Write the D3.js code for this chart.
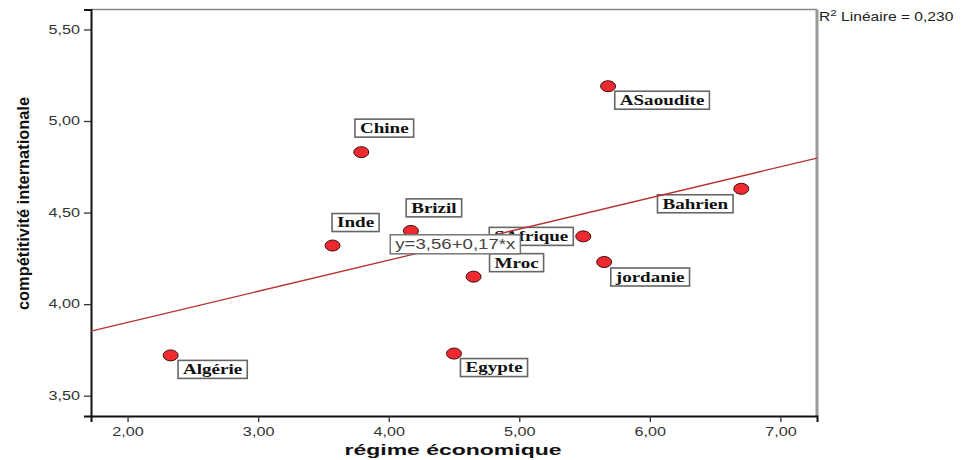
<!DOCTYPE html>
<html>
<head>
<meta charset="utf-8">
<script src="https://d3js.org/d3.v7.min.js"></script>
<style>
  body { margin: 0; background: #fff; }
  .tick text { font-family: Arial, "Liberation Sans", sans-serif; font-size: 12px; fill: #333; }
  .lbl text { font-family: "Liberation Serif", "Times New Roman", serif; font-weight: bold; font-size: 14px; fill: #111; }
</style>
</head>
<body>
<svg id="chart" width="964" height="460"></svg>
<script>
// data
var countries    = ["Algérie", "Chine", "Inde", "Brizil", "Mroc", "SAfrique", "jordanie", "Egypte", "ASaoudite", "Bahrien"];
var regime       = [2.33, 3.79, 3.57, 4.17, 4.65, 5.49, 5.65, 4.50, 5.68, 6.70];
var competitivite = [3.72, 4.83, 4.32, 4.40, 4.15, 4.37, 4.23, 3.73, 5.19, 4.63];
var xTicks = [2, 3, 4, 5, 6, 7];
var yTicks = [3.5, 4, 4.5, 5, 5.5];
var intercept = 3.56, slope = 0.17, r2 = "0,230";

// where each label box sits relative to its point (box centre)
var labelOffsets = [[42, 14], [23, -24], [23, -23], [23, -23], [43, -14], [-52, 0], [46, 15], [40, 14], [54, 14], [-46, 15]];

var svg = d3.select("#chart");
var plotL = 91, plotR = 817, plotT = 9.5, plotB = 416;
var stretch = 1.35;

var x = d3.scaleLinear().domain([1.72, 7.28]).range([plotL, plotR]);
var y = d3.scaleLinear().domain([3.389, 5.609]).range([plotB, plotT]);
var fmt = function(d){ return d3.format(".2f")(d).replace(".", ","); };

// widen text like the original export
function widen(sel, k) {
  sel.each(function() {
    var w = this.getComputedTextLength();
    d3.select(this).attr("textLength", w * k).attr("lengthAdjust", "spacingAndGlyphs");
  });
}

// frame
svg.append("line").attr("x1", plotL).attr("x2", plotR).attr("y1", plotT).attr("y2", plotT)
  .attr("stroke", "#888").attr("stroke-width", 1.5);
svg.append("line").attr("x1", plotR).attr("x2", plotR).attr("y1", plotT).attr("y2", plotB)
  .attr("stroke", "#999").attr("stroke-width", 3);

var xAxis = svg.append("g").attr("transform", "translate(0," + plotB + ")")
  .call(d3.axisBottom(x).tickValues(xTicks).tickFormat(fmt).tickSize(6).tickPadding(5));
var yAxis = svg.append("g").attr("transform", "translate(" + plotL + ",0)")
  .call(d3.axisLeft(y).tickValues(yTicks).tickFormat(fmt).tickSize(7).tickPadding(4));
[xAxis, yAxis].forEach(function(a){
  a.select(".domain").attr("stroke", "#111").attr("stroke-width", 2);
  a.selectAll(".tick line").attr("stroke", "#333").attr("stroke-width", 1.3);
  a.selectAll(".tick text").attr("font-size", 12).attr("font-family", null).call(widen, stretch);
});

// points
svg.append("g").selectAll("ellipse").data(countries).join("ellipse")
  .attr("cx", function(d, i){ return x(regime[i]); })
  .attr("cy", function(d, i){ return y(competitivite[i]); })
  .attr("rx", 7.5).attr("ry", 5.5)
  .attr("fill", "#ee2a30").attr("stroke", "#3a1010").attr("stroke-width", 1);

// labels
var lbl = svg.append("g").attr("class", "lbl").selectAll("g").data(countries).join("g")
  .attr("transform", function(d, i){
    return "translate(" + (x(regime[i]) + labelOffsets[i][0]) + "," + (y(competitivite[i]) + labelOffsets[i][1]) + ")";
  });
lbl.append("rect").attr("fill", "#fff").attr("stroke", "#666").attr("stroke-width", 1.6);
lbl.append("text").attr("text-anchor", "middle").attr("dy", "0.35em").text(function(d){ return d; })
  .call(widen, 1.36);
lbl.each(function(){
  var g = d3.select(this);
  var w = +g.select("text").attr("textLength") + 10;
  g.select("rect").attr("x", -w / 2).attr("y", -9).attr("width", w).attr("height", 18);
});

// fit line
var xd = x.domain();
svg.append("line")
  .attr("x1", x(xd[0])).attr("y1", y(intercept + slope * xd[0]))
  .attr("x2", x(xd[1])).attr("y2", y(intercept + slope * xd[1]))
  .attr("stroke", "#b5312f").attr("stroke-width", 1.3);

// equation box sitting on the line
var eqX = 4.51;
var eq = svg.append("g").attr("transform", "translate(" + x(eqX) + "," + y(intercept + slope * eqX) + ")");
var eqRect = eq.append("rect").attr("fill", "#fff").attr("stroke", "#777").attr("stroke-width", 1.5);
eq.append("text").attr("text-anchor", "middle").attr("dy", "0.36em")
  .attr("font-family", "Arial, 'Liberation Sans', sans-serif").attr("font-size", 14).attr("fill", "#444")
  .text("y=3,56+0,17*x").call(widen, 1.33);
var ew = +eq.select("text").attr("textLength") + 10;
eqRect.attr("x", -ew / 2).attr("y", -9.5).attr("width", ew).attr("height", 19);

// R² annotation
var r2t = svg.append("text").attr("transform", "translate(819,21) scale(1.3,1)")
  .attr("font-family", "Arial, 'Liberation Sans', sans-serif").attr("font-size", 12).attr("fill", "#222");
r2t.append("tspan").text("R");
r2t.append("tspan").attr("dy", -5).attr("font-size", 9).text("2");
r2t.append("tspan").attr("dy", 5).text(" Linéaire = " + r2);

// axis titles
svg.append("text").attr("x", 453).attr("y", 455).attr("text-anchor", "middle")
  .attr("font-family", "Arial, 'Liberation Sans', sans-serif").attr("font-weight", "bold")
  .attr("font-size", 15).attr("fill", "#111")
  .attr("textLength", 217).attr("lengthAdjust", "spacingAndGlyphs")
  .text("régime économique");

svg.append("text").attr("transform", "translate(29,203.5) rotate(-90)").attr("text-anchor", "middle")
  .attr("font-family", "'Liberation Sans Narrow', Arial, sans-serif").attr("font-weight", "bold")
  .attr("font-size", 17).attr("fill", "#111")
  .attr("textLength", 213).attr("lengthAdjust", "spacingAndGlyphs")
  .text("compétitivité internationale");
</script>
</body>
</html>
